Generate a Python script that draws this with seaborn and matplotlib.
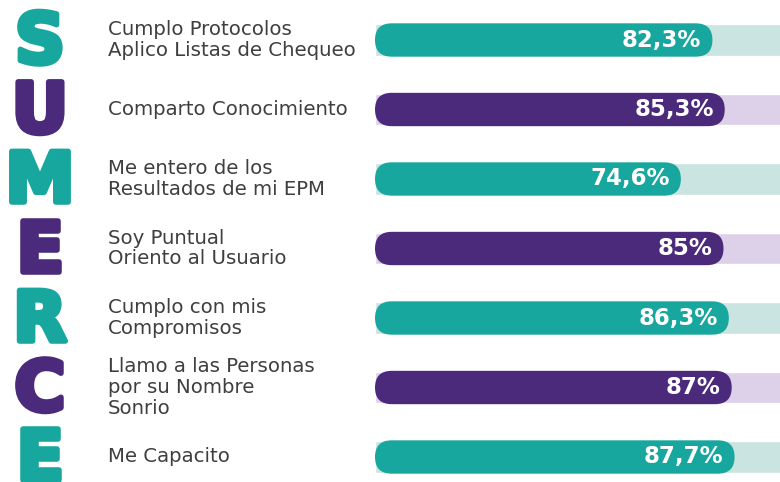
import matplotlib
matplotlib.use("Agg")
import matplotlib.pyplot as plt
import matplotlib.patheffects as pe
import seaborn as sns
import pandas as pd
from matplotlib.patches import FancyBboxPatch
from matplotlib.transforms import blended_transform_factory

# ---- data ----
letters = ["S", "U", "M", "E", "R", "C", "E"]
labels = [
    "Cumplo Protocolos\nAplico Listas de Chequeo",
    "Comparto Conocimiento",
    "Me entero de los\nResultados de mi EPM",
    "Soy Puntual\nOriento al Usuario",
    "Cumplo con mis\nCompromisos",
    "Llamo a las Personas\npor su Nombre\nSonrio",
    "Me Capacito",
]
values = [82.3, 85.3, 74.6, 85.0, 86.3, 87.0, 87.7]
track = [100] * len(values)

teal = "#17a79e"
purple = "#4b2a7b"
teal_light = "#cae4e1"
purple_light = "#dcd1e8"
main_colors = [teal if i % 2 == 0 else purple for i in range(len(values))]
track_colors = [teal_light if i % 2 == 0 else purple_light for i in range(len(values))]

df = pd.DataFrame({"label": labels, "value": values, "track": track})

sns.set_theme(style="white")
plt.rcParams["font.family"] = ["DejaVu Sans"]

W, H = 780, 482
fig = plt.figure(figsize=(W / 100, H / 100), dpi=100)
fig.patch.set_facecolor("white")

x0_px = 375
px_per_unit = 4.1
row_px = 69.5
top_center = 40
bar_w = 0.48

ax = fig.add_axes([x0_px / W, 0, (W - x0_px) / W, 1])
ax.set_facecolor("none")

sns.barplot(data=df, x="track", y="label", hue="label", order=labels, hue_order=labels,
            palette=track_colors, width=0.46, legend=False, ax=ax, saturation=1)
n_track = len(ax.patches)
sns.barplot(data=df, x="value", y="label", hue="label", order=labels, hue_order=labels,
            palette=main_colors, width=bar_w, legend=False, ax=ax, saturation=1)

ax.set_xlim(0, (W - x0_px) / px_per_unit)
ax.set_ylim((H - top_center) / row_px, -top_center / row_px)
ax.axis("off")

# rounded bars
r_units = (bar_w * row_px / 2) / px_per_unit
aspect = (bar_w / 2) / r_units
patches = list(ax.patches)
for k, p in enumerate(patches):
    if k < n_track:
        continue
    x, y = p.get_x(), p.get_y()
    w, h = p.get_width(), p.get_height()
    fc = p.get_facecolor()
    zo = p.get_zorder()
    p.remove()
    fb = FancyBboxPatch((x, y), w, h,
                        boxstyle=f"round,pad=0,rounding_size={r_units}",
                        mutation_aspect=aspect, facecolor=fc, edgecolor="none",
                        zorder=zo + 1)
    ax.add_patch(fb)

bt = blended_transform_factory(fig.transFigure, ax.transData)
cap_off = 23 / row_px
for i, (lab, v, letter) in enumerate(zip(labels, values, letters)):
    txt = f"{v:g}".replace(".", ",") + "%"
    ax.text(v - 2.7, i, txt, ha="right", va="center", color="white",
            fontsize=16.5, fontweight="bold", zorder=10)
    ax.text(108 / W, i, lab, transform=bt, ha="left", va="center",
            color="#3f3f3f", fontsize=14.2, linespacing=1.1)
    t = ax.text(40 / W, i + cap_off, letter, transform=bt, ha="center", va="baseline",
                color=main_colors[i], fontsize=50, fontweight="bold")
    t.set_path_effects([pe.withStroke(linewidth=4, foreground=main_colors[i])])

fig.savefig("out.png", dpi=100, facecolor="white")
